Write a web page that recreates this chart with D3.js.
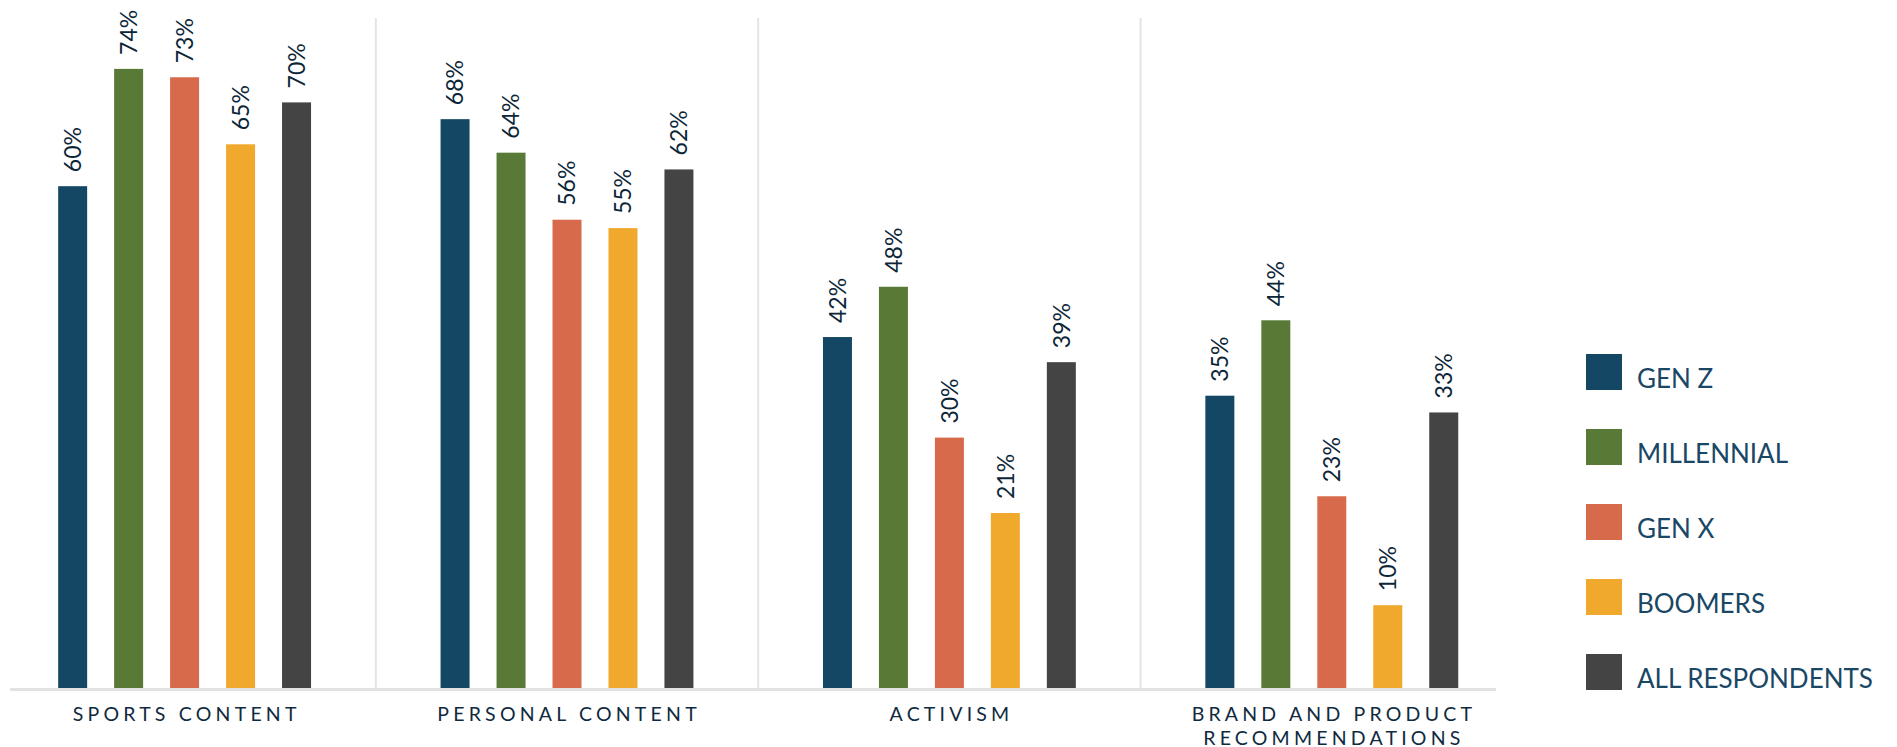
<!DOCTYPE html>
<html>
<head>
<meta charset="utf-8">
<script src="https://cdn.jsdelivr.net/npm/d3@7"></script>
<style>
  html, body { margin: 0; padding: 0; background: #ffffff; }
  svg { display: block; }
</style>
</head>
<body>
<svg id="chart" width="1897" height="747"></svg>
<script>
// ---- data ----
const categories = ["SPORTS CONTENT", "PERSONAL CONTENT", "ACTIVISM", "BRAND AND PRODUCT RECOMMENDATIONS"];
const categoryLines = [["SPORTS CONTENT"], ["PERSONAL CONTENT"], ["ACTIVISM"], ["BRAND AND PRODUCT", "RECOMMENDATIONS"]];
const seriesNames = ["GEN Z", "MILLENNIAL", "GEN X", "BOOMERS", "ALL RESPONDENTS"];
const genZ = [60, 68, 42, 35];
const millennial = [74, 64, 48, 44];
const genX = [73, 56, 30, 23];
const boomers = [65, 55, 21, 10];
const allRespondents = [70, 62, 39, 33];
const seriesColors = ["#134764", "#587a36", "#d66a4b", "#f0a92d", "#434443"];

const seriesValues = [genZ, millennial, genX, boomers, allRespondents];
const table = categories.map((c, i) => ({
  category: c,
  lines: categoryLines[i],
  values: seriesNames.map((s, j) => ({ series: s, value: seriesValues[j][i], color: seriesColors[j] }))
}));

// ---- layout ----
const svg = d3.select("#chart");
const baseY = 689;
const x0 = d3.scaleBand().domain(categories).range([-6.6, 1523]).paddingInner(0).paddingOuter(0);
const x1 = d3.scaleBand().domain(seriesNames).range([0, x0.bandwidth()]).paddingInner(0.482).paddingOuter(1.157);
const y = d3.scaleLinear().domain([0, 100]).range([baseY, baseY - 838]);

// separators
svg.append("g").selectAll("line")
  .data(categories.slice(1))
  .join("line")
  .attr("x1", d => x0(d)).attr("x2", d => x0(d))
  .attr("y1", 18).attr("y2", baseY)
  .attr("stroke", "#e4e4e4").attr("stroke-width", 2);

// bars
const groups = svg.append("g").selectAll("g")
  .data(table)
  .join("g")
  .attr("transform", d => `translate(${x0(d.category)},0)`);

groups.selectAll("rect")
  .data(d => d.values)
  .join("rect")
  .attr("x", d => x1(d.series))
  .attr("width", x1.bandwidth())
  .attr("y", d => y(d.value))
  .attr("height", d => baseY - y(d.value))
  .attr("fill", d => d.color);

// value labels
groups.selectAll("text.val")
  .data(d => d.values)
  .join("text")
  .attr("class", "val")
  .attr("transform", d => `translate(${x1(d.series) + x1.bandwidth() / 2},${y(d.value) - 14}) rotate(-90)`)
  .attr("dy", "0.36em")
  .attr("text-anchor", "start")
  .attr("font-family", "Lato, 'Noto Sans', sans-serif")
  .attr("font-size", 23)
  .attr("fill", "#0c2638")
  .text(d => d.value + "%");

// baseline
svg.append("line")
  .attr("x1", 10).attr("x2", 1496)
  .attr("y1", baseY + 0.5).attr("y2", baseY + 0.5)
  .attr("stroke", "#e2e2e2").attr("stroke-width", 3);

// category labels
const ls = 4.2;
groups.append("text")
  .attr("font-family", "Lato, 'Noto Sans', sans-serif")
  .attr("font-size", 19.5)
  .attr("letter-spacing", ls)
  .attr("fill", "#0f2a3e")
  .attr("text-anchor", "middle")
  .selectAll("tspan")
  .data(d => d.lines)
  .join("tspan")
  .attr("x", x0.bandwidth() / 2 + ls / 2)
  .attr("y", (d, i) => 721 + i * 23.5)
  .text(d => d);

// legend
const legend = svg.append("g").selectAll("g")
  .data(seriesNames)
  .join("g")
  .attr("transform", (d, i) => `translate(1586,${354 + i * 75})`);
legend.append("rect")
  .attr("width", 36).attr("height", 36)
  .attr("fill", (d, i) => seriesColors[i]);
legend.append("text")
  .attr("x", 51).attr("y", 34)
  .attr("font-family", "Lato, 'Noto Sans', sans-serif")
  .attr("font-size", 26)
  .attr("fill", "#1a4766")
  .text(d => d);
</script>
</body>
</html>
